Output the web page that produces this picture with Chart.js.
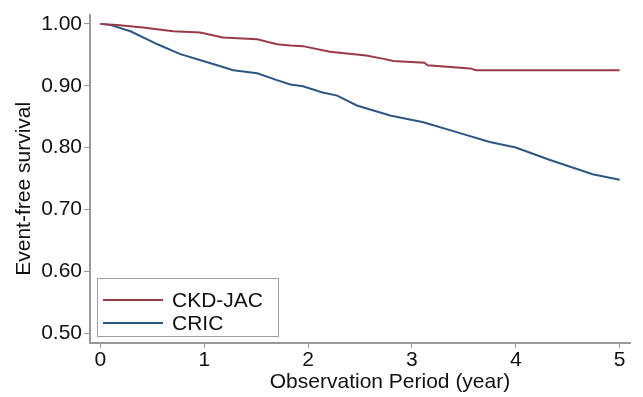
<!DOCTYPE html>
<html>
<head>
<meta charset="utf-8">
<script src="https://cdn.jsdelivr.net/npm/chart.js@4/dist/chart.umd.min.js"></script>
<style>
  html, body { margin: 0; padding: 0; background: #fff; }
  #wrap { width: 643px; height: 397px; }
</style>
</head>
<body>
<div id="wrap"><canvas id="km"></canvas></div>
<script>
// Kaplan-Meier curves
const yearsJAC = [0, 0.16, 0.41, 0.70, 0.96, 1.18, 1.51, 1.70, 1.83, 1.95, 2.21, 2.56, 2.74, 2.82, 3.12, 3.15, 3.56, 3.62, 5.0];
const survJAC  = [1.000, 0.998, 0.994, 0.988, 0.986, 0.978, 0.975, 0.967, 0.965, 0.964, 0.955, 0.949, 0.943, 0.940, 0.937, 0.933, 0.928, 0.925, 0.925];

const yearsCRIC = [0, 0.10, 0.29, 0.55, 0.77, 1.03, 1.28, 1.51, 1.70, 1.83, 1.95, 2.14, 2.28, 2.47, 2.79, 3.11, 3.43, 3.75, 4.0, 4.33, 4.74, 5.0];
const survCRIC  = [1.000, 0.998, 0.988, 0.967, 0.951, 0.938, 0.925, 0.920, 0.909, 0.902, 0.899, 0.889, 0.884, 0.868, 0.852, 0.841, 0.825, 0.809, 0.800, 0.780, 0.757, 0.748];

const seriesNames = ['CKD-JAC', 'CRIC'];
const xTicks = [0, 1, 2, 3, 4, 5];
const yTicks = [0.5, 0.6, 0.7, 0.8, 0.9, 1.0];
const xTitle = 'Observation Period (year)';
const yTitle = 'Event-free survival';

const FAMILY = '"Liberation Sans", Arial, sans-serif';
const FONT = { family: FAMILY, size: 21 };
const axisGray = '#9a9a9a';
const textCol = '#111';

function toPoints(xs, ys) {
    return xs.map((x, i) => ({ x: x, y: ys[i] }));
}

// axis titles + boxed legend, placed the way Stata does it
const stataBits = {
    id: 'stataBits',
    afterDraw(chart) {
        const ctx = chart.ctx;
        const area = chart.chartArea;
        ctx.save();
        ctx.font = FONT.size + 'px ' + FAMILY;
        ctx.fillStyle = textCol;

        // x title (sits a bit right of centre in the original)
        ctx.textAlign = 'center';
        ctx.textBaseline = 'middle';
        ctx.fillText(xTitle, (area.left + area.right) / 2 + 30, area.bottom + 39);

        // y title
        ctx.save();
        ctx.translate(24, (area.top + area.bottom) / 2 + 10);
        ctx.rotate(-Math.PI / 2);
        ctx.fillText(yTitle, 0, 0);
        ctx.restore();

        // legend box
        const left = area.left + 7, top = area.bottom - 65, w = 181, h = 58;
        ctx.fillStyle = '#fff';
        ctx.fillRect(left, top, w, h);
        ctx.strokeStyle = '#a0a0a0';
        ctx.lineWidth = 1;
        ctx.strokeRect(left + 0.5, top + 0.5, w, h);
        ctx.textAlign = 'left';
        chart.data.datasets.forEach((ds, i) => {
            const y = top + 22 + i * 23;
            ctx.strokeStyle = ds.borderColor;
            ctx.lineWidth = 2;
            ctx.beginPath();
            ctx.moveTo(left + 6, y);
            ctx.lineTo(left + 66, y);
            ctx.stroke();
            ctx.fillStyle = textCol;
            ctx.fillText(ds.label, left + 75, y + 1);
        });
        ctx.restore();
    }
};

new Chart('km', {
    type: 'line',
    data: {
        datasets: [
            { label: seriesNames[0], data: toPoints(yearsJAC, survJAC), borderColor: '#983b49', borderWidth: 2, pointRadius: 0, tension: 0, fill: false },
            { label: seriesNames[1], data: toPoints(yearsCRIC, survCRIC), borderColor: '#2c5783', borderWidth: 2, pointRadius: 0, tension: 0, fill: false }
        ]
    },
    options: {
        responsive: true,
        maintainAspectRatio: false,
        animation: false,
        layout: { padding: { top: 12, right: 13, left: 0, bottom: 0 } },
        plugins: {
            legend: { display: false },
            tooltip: { enabled: false }
        },
        scales: {
            x: {
                type: 'linear',
                min: -0.1,
                max: 5.1,
                afterBuildTicks: s => { s.ticks = xTicks.map(v => ({ value: v })); },
                ticks: { color: textCol, font: FONT, padding: 0, maxRotation: 0, callback: v => String(v) },
                grid: { drawOnChartArea: false, drawTicks: true, tickLength: 5, color: axisGray },
                border: { display: true, color: axisGray, width: 2 },
                afterFit: s => { s.height = 54; }
            },
            y: {
                type: 'linear',
                min: 0.484,
                max: 1.015,
                afterBuildTicks: s => { s.ticks = yTicks.map(v => ({ value: v })); },
                ticks: { color: textCol, font: FONT, padding: 2, callback: v => v.toFixed(2) },
                grid: { drawOnChartArea: false, drawTicks: true, tickLength: 6, color: axisGray },
                border: { display: true, color: axisGray, width: 2 },
                afterFit: s => { s.width = 90; }
            }
        }
    },
    plugins: [stataBits]
});
</script>
</body>
</html>
